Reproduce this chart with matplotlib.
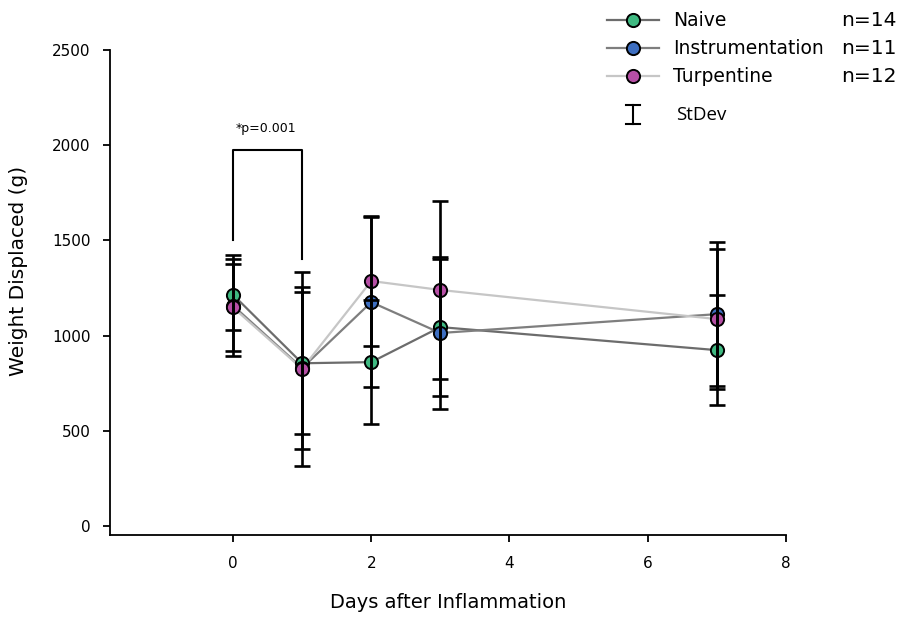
import matplotlib
matplotlib.use("Agg")
import matplotlib.pyplot as plt
from matplotlib.lines import Line2D

# Days after inflammation
days = [0, 1, 2, 3, 7]

# Group means (g)
naive_mean = [1215, 855, 861, 1045, 924]
instr_mean = [1158, 830, 1176, 1014, 1113]
turp_mean = [1148, 826, 1287, 1240, 1087]

# Group standard deviations (g)
naive_sd = [187, 373, 327, 360, 289]
instr_sd = [265, 427, 445, 401, 377]
turp_sd = [228, 510, 343, 467, 366]

group_names = ["Naive", "Instrumentation", "Turpentine"]
group_n = ["n=14", "n=11", "n=12"]

fill_colors = ["#3fb981", "#3d6ec0", "#b64fa5"]
line_colors = ["#6c6c6c", "#7e7e7e", "#c6c6c6"]

means = [naive_mean, instr_mean, turp_mean]
sds = [naive_sd, instr_sd, turp_sd]

fig = plt.figure(figsize=(9, 6.19), dpi=100)
ax = fig.add_axes([0.1222, 0.1357, 0.7511, 0.7834])

sans = ["DejaVu Sans"]

for m, s, fc, lc in zip(means, sds, fill_colors, line_colors):
    ax.plot(days, m, color=lc, lw=1.6, zorder=2)
    ax.plot(days, m, "o", ms=9.5, mfc=fc, mec="black", mew=1.4, zorder=3)
    ax.errorbar(days, m, yerr=s, fmt="none", ecolor="black", elinewidth=1.9,
                capsize=6, capthick=1.9, zorder=4)

# Significance bracket between day 0 and day 1
ax.plot([0, 0, 1, 1], [1500, 1975, 1975, 1405], color="black", lw=1.5, zorder=5)
ax.text(0.48, 2090, "*p=0.001", ha="center", va="center", fontsize=9,
        family=sans)

ax.set_xlim(-1.78, 8)
ax.set_ylim(-47, 2500)
ax.set_xticks([0, 2, 4, 6, 8])
ax.set_yticks([0, 500, 1000, 1500, 2000, 2500])
ax.tick_params(axis="both", direction="out", length=5, width=1.3, labelsize=11)
for lab in ax.get_xticklabels() + ax.get_yticklabels():
    lab.set_family(sans)
ax.tick_params(axis="x", pad=10)
ax.tick_params(axis="y", pad=9)

for side in ["top", "right"]:
    ax.spines[side].set_visible(False)
for side in ["left", "bottom"]:
    ax.spines[side].set_linewidth(1.3)

ax.set_xlabel("Days after Inflammation", fontsize=14, labelpad=16, family=sans)
ax.set_ylabel("Weight Displaced (g)", fontsize=14.5, family=sans)
ax.yaxis.set_label_coords(-0.122, 0.544)

# Legend block drawn in figure pixel space
W, H = 900, 619
def fx(px):
    return px / W
def fy(py):
    return 1 - py / H

rows_y = [20, 48, 76]
for name, n, fc, lc, ry in zip(group_names, group_n, fill_colors, line_colors, rows_y):
    fig.add_artist(Line2D([fx(607), fx(659)], [fy(ry), fy(ry)], color=lc, lw=1.6,
                          transform=fig.transFigure))
    fig.add_artist(Line2D([fx(633)], [fy(ry)], marker="o", ms=9.5, mfc=fc,
                          mec="black", mew=1.4, transform=fig.transFigure))
    fig.text(fx(673), fy(ry), name, ha="left", va="center", fontsize=13.5,
             family=sans)
    fig.text(fx(841), fy(ry), n, ha="left", va="center", fontsize=14.5,
             family=sans)

# StDev legend symbol
fig.add_artist(Line2D([fx(633), fx(633)], [fy(105), fy(124)], color="black", lw=1.5,
                      transform=fig.transFigure))
for cy in (105, 124):
    fig.add_artist(Line2D([fx(626), fx(640)], [fy(cy), fy(cy)], color="black", lw=1.5,
                          transform=fig.transFigure))
fig.text(fx(676), fy(115), "StDev", ha="left", va="center", fontsize=13.5,
         family=["Open Sans", "DejaVu Sans"])

fig.savefig("out.png", dpi=100, facecolor="white")
